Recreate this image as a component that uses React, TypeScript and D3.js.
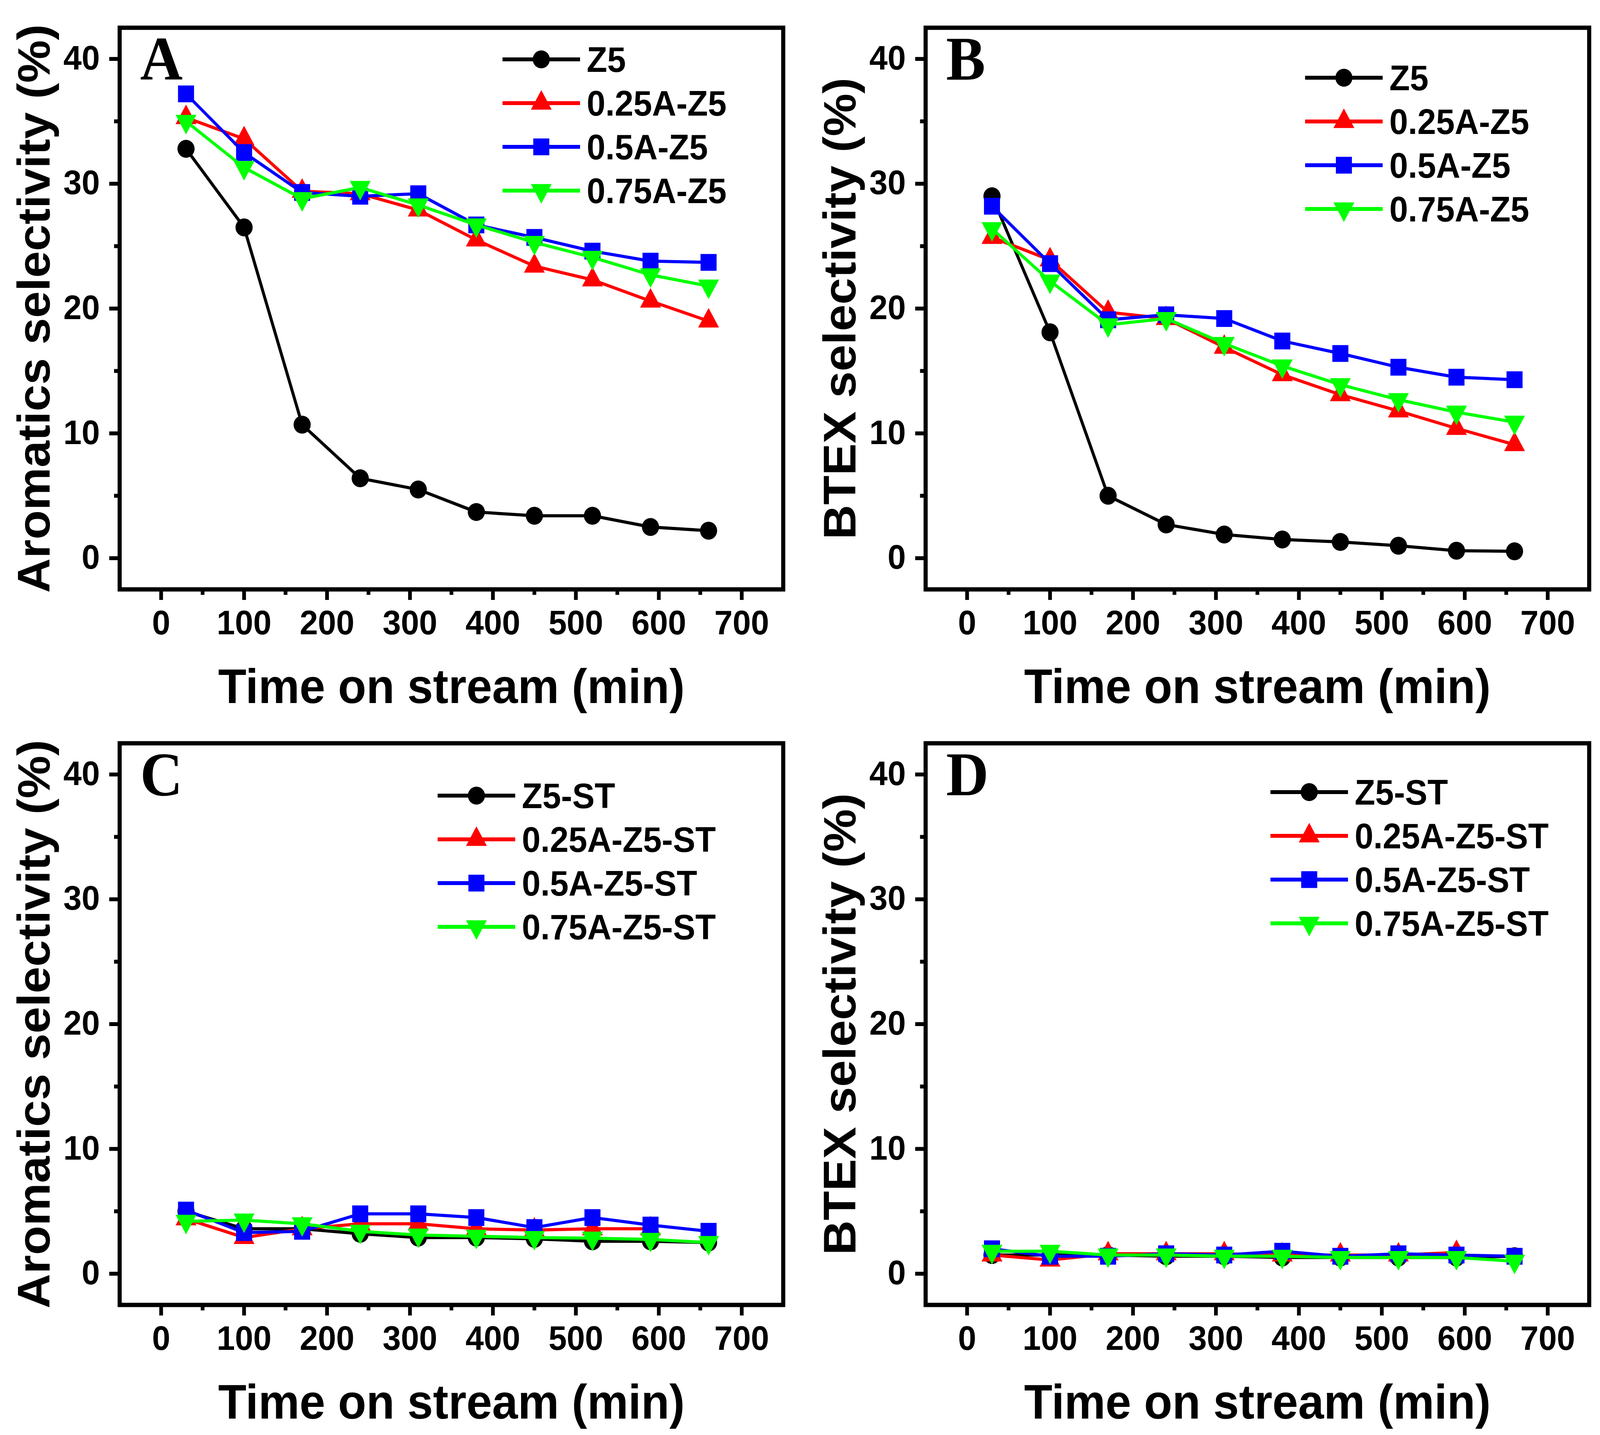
import * as d3 from "d3";

// time on stream (min)
const times = [30, 100, 170, 240, 310, 380, 450, 520, 590, 660];

// A: aromatics selectivity (%)
const aromZ5 = [32.8, 26.5, 10.7, 6.4, 5.5, 3.7, 3.4, 3.4, 2.5, 2.2];
const arom025 = [35.3, 33.6, 29.4, 29.2, 27.9, 25.5, 23.4, 22.3, 20.6, 19.0];
const arom05 = [37.2, 32.5, 29.3, 29.0, 29.2, 26.7, 25.7, 24.6, 23.8, 23.7];
const arom075 = [35.0, 31.3, 28.8, 29.7, 28.3, 26.7, 25.3, 24.1, 22.7, 21.8];

// B: BTEX selectivity (%)
const btexZ5 = [29.0, 18.1, 5.0, 2.7, 1.9, 1.5, 1.3, 1.0, 0.6, 0.55];
const btex025 = [25.7, 23.9, 19.7, 19.2, 16.9, 14.7, 13.1, 11.8, 10.4, 9.1];
const btex05 = [28.2, 23.6, 19.1, 19.5, 19.2, 17.4, 16.4, 15.3, 14.5, 14.3];
const btex075 = [26.4, 22.2, 18.7, 19.2, 17.2, 15.4, 13.9, 12.7, 11.7, 10.9];

// C: aromatics selectivity, steam treated (%)
const stAromZ5 = [5.0, 3.6, 3.6, 3.2, 2.9, 2.9, 2.8, 2.6, 2.6, 2.5];
const stArom025 = [4.4, 2.9, 3.6, 4.0, 4.0, 3.6, 3.5, 3.6, 3.6];
const stArom05 = [5.1, 3.3, 3.4, 4.8, 4.8, 4.5, 3.7, 4.5, 3.9, 3.4];
const stArom075 = [4.2, 4.3, 4.0, 3.4, 3.1, 3.0, 2.9, 2.85, 2.75, 2.5];

// D: BTEX selectivity, steam treated (%)
const stBtexZ5 = [1.5, 1.5, 1.5, 1.4, 1.4, 1.3, 1.3, 1.3, 1.3, 1.4];
const stBtex025 = [1.5, 1.1, 1.6, 1.6, 1.6, 1.5, 1.5, 1.5, 1.7];
const stBtex05 = [2.0, 1.4, 1.4, 1.6, 1.5, 1.8, 1.4, 1.6, 1.5, 1.4];
const stBtex075 = [1.8, 1.8, 1.5, 1.5, 1.4, 1.4, 1.3, 1.3, 1.3, 1.0];

const namesTop = ["Z5", "0.25A-Z5", "0.5A-Z5", "0.75A-Z5"];
const namesBottom = ["Z5-ST", "0.25A-Z5-ST", "0.5A-Z5-ST", "0.75A-Z5-ST"];

const xTicks = [0, 100, 200, 300, 400, 500, 600, 700];
const yTicks = [0, 10, 20, 30, 40];

const colors = ["#000000", "#ff0000", "#0000ff", "#00ff00"];
const shapes = ["circle", "up", "square", "down"];

const W = 4292;
const H = 3674;
const plotW = 1780;
const plotH = 1438;
const sans = "'Liberation Sans', Arial, sans-serif";
const serif = "'Liberation Serif', 'Times New Roman', serif";

const panels = [
  { letter: "A", left: 321, top: 71, ytitle: "Aromatics selectivity (%)", names: namesTop,
    data: [aromZ5, arom025, arom05, arom075], legend: [1027, 81] },
  { letter: "B", left: 2483, top: 71, ytitle: "BTEX selectivity (%)", names: namesTop,
    data: [btexZ5, btex025, btex05, btex075], legend: [1018, 128] },
  { letter: "C", left: 321, top: 1903, ytitle: "Aromatics selectivity (%)", names: namesBottom,
    data: [stAromZ5, stArom025, stArom05, stArom075], legend: [853, 134] },
  { letter: "D", left: 2483, top: 1903, ytitle: "BTEX selectivity (%)", names: namesBottom,
    data: [stBtexZ5, stBtex025, stBtex05, stBtex075], legend: [925, 125] },
];

const Marker = ({ shape, color, x, y }: { shape: string; color: string; x: number; y: number }) => {
  if (shape === "circle") return <circle cx={x} cy={y} r={23} fill={color} />;
  if (shape === "square") return <rect x={x - 21.5} y={y - 21.5} width={43} height={43} fill={color} />;
  const w = 56;
  const h = 50;
  const s = shape === "up" ? 1 : -1;
  const pts = [
    [x, y - (s * 2 * h) / 3],
    [x - w / 2, y + (s * h) / 3],
    [x + w / 2, y + (s * h) / 3],
  ];
  return <polygon points={pts.map((p) => p.join(",")).join(" ")} fill={color} />;
};

const Panel = ({ p }: { p: (typeof panels)[number] }) => {
  const x = d3.scaleLinear([-50, 750], [p.left, p.left + plotW]);
  const y = d3.scaleLinear([-2.5, 42.5], [p.top + plotH, p.top]);
  const bottom = p.top + plotH;
  const line = d3.line<number>((d, i) => x(times[i]), (d) => y(d));
  const xMinor = d3.range(50, 700, 100);
  const yMinor = d3.range(5, 40, 10);

  return (
    <g>
      {/* ticks */}
      <g stroke="#000" strokeWidth={10}>
        {xTicks.map((t) => (
          <line key={"xt" + t} x1={x(t)} x2={x(t)} y1={bottom} y2={bottom + 27} />
        ))}
        {xMinor.map((t) => (
          <line key={"xm" + t} x1={x(t)} x2={x(t)} y1={bottom} y2={bottom + 14} />
        ))}
        {yTicks.map((t) => (
          <line key={"yt" + t} x1={p.left - 28} x2={p.left} y1={y(t)} y2={y(t)} />
        ))}
        {yMinor.map((t) => (
          <line key={"ym" + t} x1={p.left - 15} x2={p.left} y1={y(t)} y2={y(t)} />
        ))}
      </g>
      <g fontFamily={sans} fontWeight="bold" fontSize={88} fill="#000">
        {xTicks.map((t) => (
          <text key={"xl" + t} x={x(t)} y={bottom + 115} textAnchor="middle">
            {t}
          </text>
        ))}
        {yTicks.map((t) => (
          <text key={"yl" + t} x={p.left - 53} y={y(t) + 27} textAnchor="end">
            {t}
          </text>
        ))}
      </g>
      {/* series */}
      {p.data.map((vals, si) => (
        <g key={"s" + si}>
          <path d={line(vals)!} fill="none" stroke={colors[si]} strokeWidth={8} strokeLinejoin="round" />
          {vals.map((v, i) => (
            <Marker key={i} shape={shapes[si]} color={colors[si]} x={x(times[i])} y={y(v)} />
          ))}
        </g>
      ))}
      {/* frame */}
      <rect x={p.left} y={p.top} width={plotW} height={plotH} fill="none" stroke="#000" strokeWidth={11} />
      <text x={p.left + 55} y={p.top + 133} fontFamily={serif} fontWeight="bold" fontSize={158}>
        {p.letter}
      </text>
      {/* legend */}
      {p.names.map((n, i) => {
        const lx = p.left + p.legend[0];
        const ly = p.top + p.legend[1] + i * 112;
        return (
          <g key={"lg" + i}>
            <line x1={lx} x2={lx + 208} y1={ly} y2={ly} stroke={colors[i]} strokeWidth={10} />
            <Marker shape={shapes[i]} color={colors[i]} x={lx + 104} y={ly} />
            <text x={lx + 226} y={ly + 32} fontFamily={sans} fontWeight="bold" fontSize={90}>
              {n}
            </text>
          </g>
        );
      })}
      {/* axis titles */}
      <text x={p.left + plotW / 2} y={bottom + 291} textAnchor="middle" fontFamily={sans} fontWeight="bold" fontSize={124}>
        Time on stream (min)
      </text>
      <text
        transform={`translate(${p.left - 188},${p.top + plotH / 2}) rotate(-90)`}
        textAnchor="middle"
        fontFamily={sans}
        fontWeight="bold"
        fontSize={123}
      >
        {p.ytitle}
      </text>
    </g>
  );
};

const App = () => {
  return (
    <svg
      viewBox={`0 0 ${W} ${H}`}
      preserveAspectRatio="none"
      style={{ position: "fixed", left: 0, top: 0, width: "100vw", height: "100vh", display: "block", background: "#fff" }}
    >
      <rect width={W} height={H} fill="#fff" />
      {panels.map((p) => (
        <Panel key={p.letter} p={p} />
      ))}
    </svg>
  );
};

export default App;
